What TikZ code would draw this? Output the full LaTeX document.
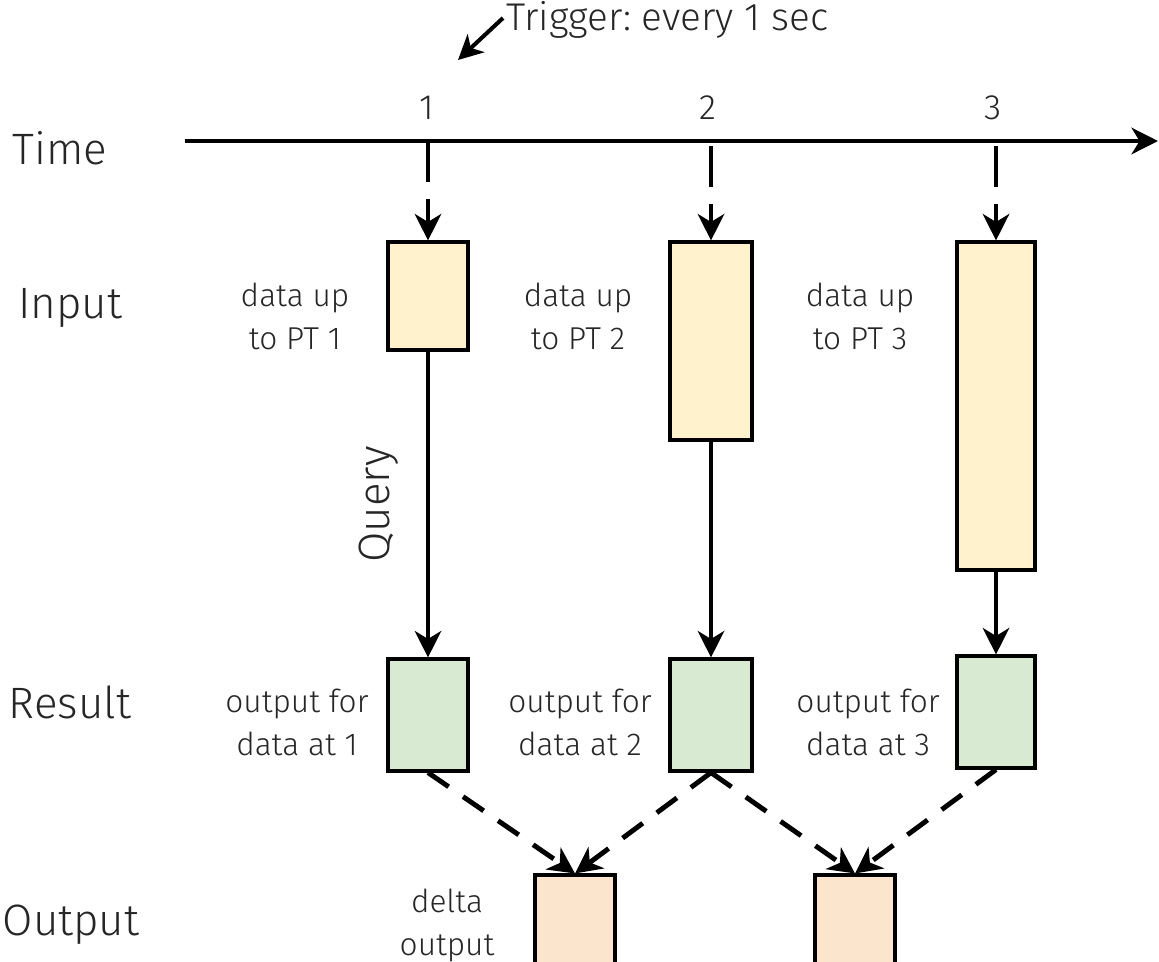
\documentclass[tikz,border=0pt]{standalone}
\usepackage{fontspec}
\setmainfont{Fira Sans}[UprightFont={* Light}]
\usepackage{tikz}
\usetikzlibrary{arrows.meta}

\definecolor{cream}{HTML}{FFF2CC}
\definecolor{sage}{HTML}{D9EAD3}
\definecolor{peach}{HTML}{FCE5CD}

\begin{document}
\begin{tikzpicture}[x=0.02cm,y=-0.02cm,
  >={Stealth[length=15pt,width=15pt,inset=4.5pt]},
  box/.style={draw,line width=1.8pt,inner sep=0pt,minimum width=1.6cm},
  inbox/.style={box,fill=cream},
  resbox/.style={box,fill=sage},
  outbox/.style={box,fill=peach,minimum height=2.2cm},
  rowlbl/.style={text=black!85,font=\fontsize{25}{30}\selectfont},
  lbl/.style={text=black!85,align=center,font=\fontsize{18}{24.5}\selectfont},
  num/.style={text=black!85,font=\fontsize{20}{24}\selectfont},
  tick/.style={->,line width=2.8pt,dash pattern=on 0.82cm off 0.34cm},
  feed/.style={->,line width=2.8pt,dash pattern=on 0.5cm off 0.35cm},
  qry/.style={->,line width=2.8pt}]
  \useasboundingbox (0,0) rectangle (1159,961);

  % row names
  \node[rowlbl] (time) at (60,148) {Time};
  \node[rowlbl] (input) at (70,308) {Input};
  \node[rowlbl] (result) at (70,702) {Result};
  \node[rowlbl] (output) at (71,925) {Output};

  % time line
  \coordinate (axs) at (185,141);
  \coordinate (axe) at (1158,141);
  \draw[->,line width=2.8pt] (axs) -- (axe);
  \node[num] (n1) at (427,108) {1};
  \node[num] (n2) at (708,108) {2};
  \node[num] (n3) at (993,108) {3};
  \coordinate (t1) at (428,141);
  \coordinate (t2) at (711,146);
  \coordinate (t3) at (996,146);

  \node[num,anchor=west,inner sep=0pt,font=\fontsize{22}{24}\selectfont] (trig) at (506,20) {Trigger:\ every 1 sec};
  \coordinate (trigend) at (458,60);
  \draw[->,line width=2.3pt,>={Stealth[length=14pt,width=14pt,inset=4pt]}] ([shift={(-3,-2)}]trig.west) -- (trigend);

  % input boxes
  \node[inbox,minimum height=2.16cm] (in1) at (428,296) {};
  \node[inbox,minimum height=3.96cm,minimum width=1.64cm] (in2) at (711,341) {};
  \node[inbox,minimum height=6.56cm,minimum width=1.56cm] (in3) at (996,406) {};
  \node[lbl] (d1) at (295,316) {data up\\to PT 1};
  \node[lbl] (d2) at (578,316) {data up\\to PT 2};
  \node[lbl] (d3) at (860,316) {data up\\to PT 3};

  % result boxes
  \node[resbox,minimum height=2.24cm] (res1) at (428,715) {};
  \node[resbox,minimum height=2.24cm,minimum width=1.64cm] (res2) at (711,715) {};
  \node[resbox,minimum height=2.24cm,minimum width=1.56cm] (res3) at (996,712) {};
  \node[lbl] (o1) at (297,722) {output for\\data at 1};
  \node[lbl] (o2) at (580,722) {output for\\data at 2};
  \node[lbl] (o3) at (868,722) {output for\\data at 3};

  % output boxes
  \node[outbox] (out1) at (575,930) {};
  \node[outbox] (out2) at (855,930) {};
  \node[lbl] (dl) at (447,925) {delta\\output};

  % arrows
  \draw[tick] (t1) -- (in1.north);
  \draw[tick] (t2) -- (in2.north);
  \draw[tick] (t3) -- (in3.north);
  \draw[qry] (in1.south) -- node[left=12pt,rotate=90,anchor=south,rowlbl] (q) {Query} (res1.north);
  \draw[qry] (in2.south) -- (res2.north);
  \draw[qry] (in3.south) -- (res3.north);
  \draw[feed] (res1.south) -- (out1.north);
  \draw[feed] (res2.south) -- (out1.north);
  \draw[feed] (res2.south) -- (out2.north);
  \draw[feed] (res3.south) -- (out2.north);
\end{tikzpicture}
\end{document}
